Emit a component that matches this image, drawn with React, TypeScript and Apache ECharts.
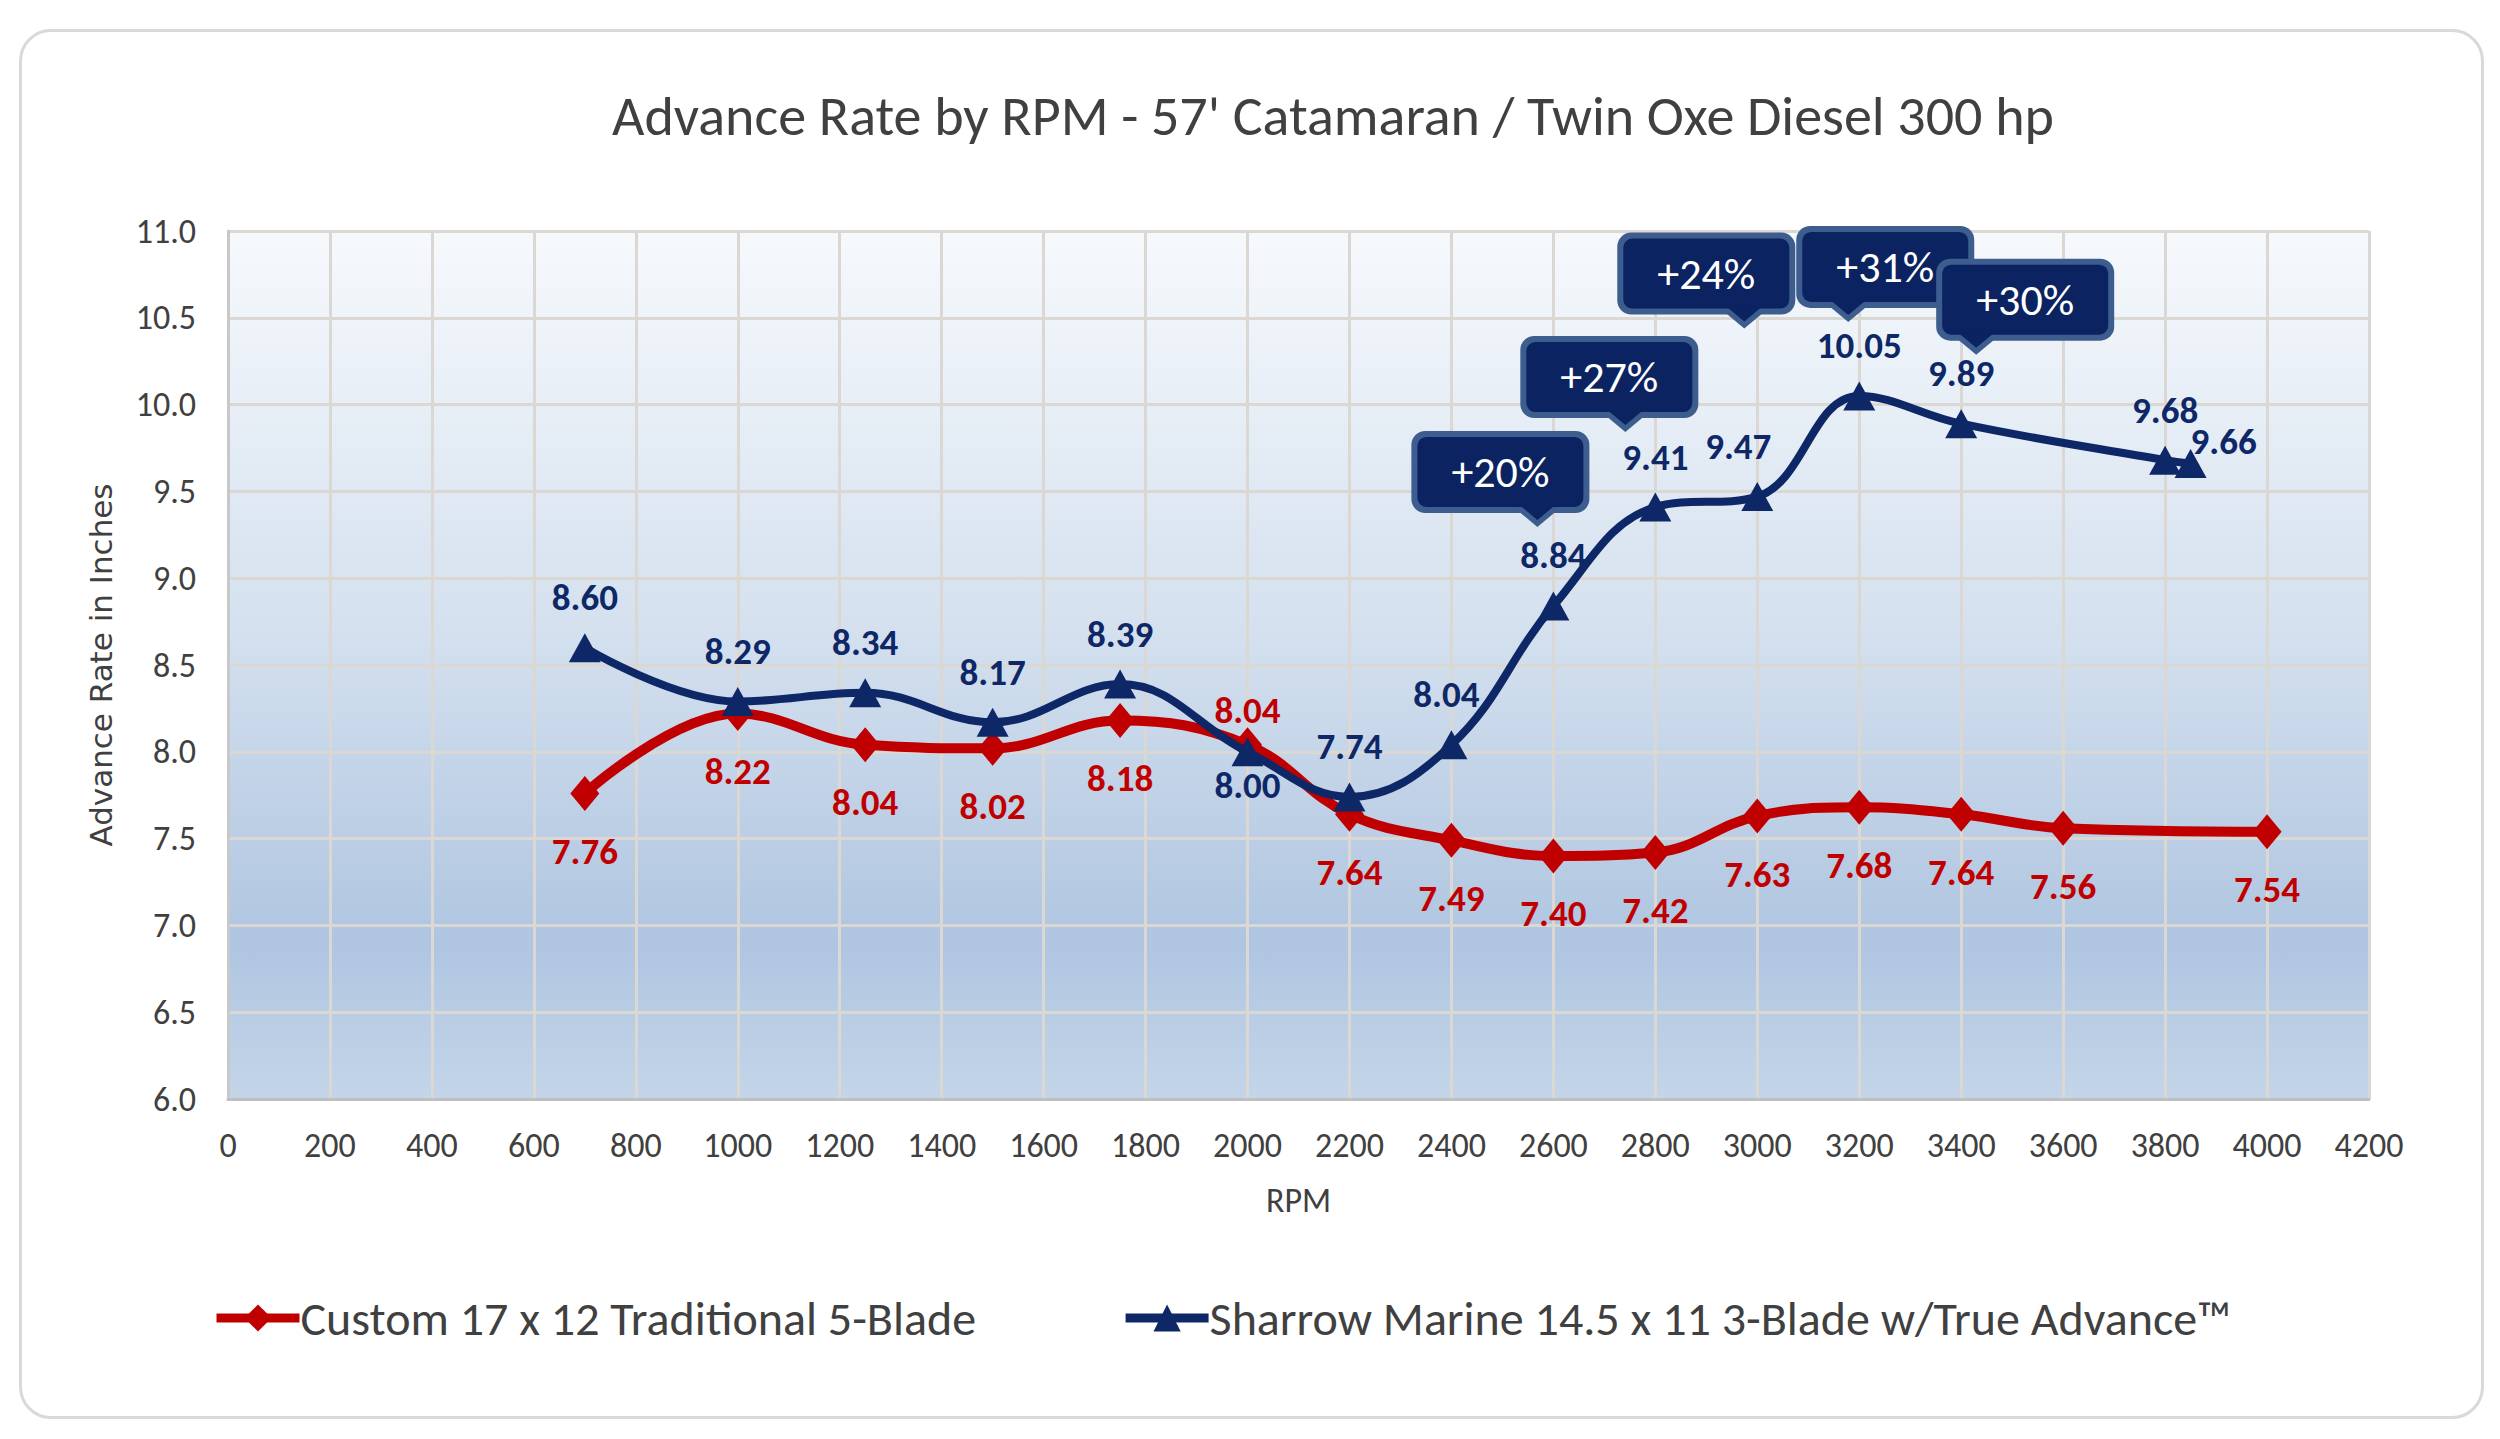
import React, { useEffect, useRef } from "react";
import * as echarts from "echarts";

const rpmCustom = [700, 1000, 1250, 1500, 1750, 2000, 2200, 2400, 2600, 2800, 3000, 3200, 3400, 3600, 4000];
const customValues = [7.76, 8.22, 8.04, 8.02, 8.18, 8.04, 7.64, 7.49, 7.4, 7.42, 7.63, 7.68, 7.64, 7.56, 7.54];
const rpmSharrow = [700, 1000, 1250, 1500, 1750, 2000, 2200, 2400, 2600, 2800, 3000, 3200, 3400, 3800, 3850];
const sharrowValues = [8.6, 8.29, 8.34, 8.17, 8.39, 8.0, 7.74, 8.04, 8.84, 9.41, 9.47, 10.05, 9.89, 9.68, 9.66];
const calloutRpm = [2600, 2800, 3000, 3200, 3400];
const calloutText = ["+20%", "+27%", "+24%", "+31%", "+30%"];

const seriesNames = ["Custom 17 x 12 Traditional 5-Blade", "Sharrow Marine 14.5 x 11 3-Blade w/True Advance™"];
const titleText = "Advance Rate by RPM - 57' Catamaran / Twin Oxe Diesel 300 hp";

// styling / placement (pixels)
const calloutPlacement = [
  { dx: -53, dy: -134, tip: 37 },
  { dx: -46, dy: -130, tip: 16 },
  { dx: -51, dy: -223, tip: 38 },
  { dx: 26, dy: -129, tip: -37 },
  { dx: 64, dy: -124, tip: -49 },
];

const FONT = "Carlito, 'Liberation Sans Narrow', Lato, sans-serif";
const RED = "#c00000";
const NAVY = "#0e2766";
const TEXT = "#404040";

export default function App() {
  const ref = useRef<HTMLDivElement>(null);

  useEffect(() => {
    document.body.style.margin = "0";
    if (!ref.current) return;
    const chart = echarts.init(ref.current, undefined, { renderer: "svg" });

    const redData = rpmCustom.map((x, i) => {
      const up = i === 5;
      return {
        value: [x, customValues[i]],
        label: { position: up ? "top" : "bottom", distance: up ? -2 : 22 },
      };
    });
    const blueData = rpmSharrow.map((x, i) => {
      let label: any = { position: "top", distance: 17 };
      if (i === 5) label = { position: "bottom", distance: 1 };
      if (i === 10) label = { position: "top", distance: 17, offset: [-19, 0] };
      if (i === 7) label = { position: "top", distance: 17, offset: [-5, 0] };
      if (i === 14) label = { position: "right", distance: 0, offset: [-16, -22] };
      return { value: [x, sharrowValues[i]], label };
    });
    const calloutData = calloutRpm.map((x) => [x, sharrowValues[rpmSharrow.indexOf(x)]]);

    chart.setOption({
      animation: false,
      backgroundColor: "transparent",
      textStyle: { fontFamily: FONT },
      title: {
        text: titleText,
        left: 1328,
        textAlign: "center",
        top: 83,
        textStyle: { fontFamily: FONT, fontSize: 56, fontWeight: "normal", color: TEXT },
      },
      legend: {
        data: seriesNames,
        left: 207,
        top: 1289,
        itemWidth: 83,
        itemHeight: 34,
        itemGap: 145,
        lineStyle: { width: 9 },
        textStyle: { fontFamily: FONT, fontSize: 48, color: TEXT, padding: [0, 0, 0, -4] },
      },
      grid: {
        left: 228,
        right: 131,
        top: 231,
        bottom: 340,
        show: true,
        borderWidth: 0,
        backgroundColor: new echarts.graphic.LinearGradient(0, 0, 0, 1, [
          { offset: 0, color: "#f6f9fc" },
          { offset: 0.45, color: "#d5e1ef" },
          { offset: 0.82, color: "#afc5e0" },
          { offset: 1, color: "#c4d5e9" },
        ]),
      },
      xAxis: {
        type: "value",
        min: 0,
        max: 4200,
        interval: 200,
        name: "RPM",
        nameLocation: "middle",
        nameGap: 84,
        nameTextStyle: { fontFamily: FONT, fontSize: 34, color: TEXT },
        axisLine: { show: true, lineStyle: { color: "#bfbfbf", width: 3 } },
        axisTick: { show: false },
        axisLabel: { fontFamily: FONT, fontSize: 34, color: TEXT, margin: 29, formatter: (v: number) => String(v) },
        splitLine: { show: true, lineStyle: { color: "#dbd8d4", width: 3 } },
      },
      yAxis: {
        type: "value",
        min: 6,
        max: 11,
        interval: 0.5,
        name: "Advance Rate in Inches",
        nameLocation: "middle",
        nameGap: 112,
        nameTextStyle: { fontFamily: "'DejaVu Sans', Verdana, sans-serif", fontSize: 31, color: TEXT },
        axisLine: { show: true, lineStyle: { color: "#c8c8c8", width: 3 } },
        axisTick: { show: false },
        axisLabel: {
          fontFamily: FONT,
          fontSize: 34,
          color: TEXT,
          margin: 32,
          formatter: (v: number) => v.toFixed(1),
        },
        splitLine: { show: true, lineStyle: { color: "#dbd8d4", width: 3 } },
      },
      series: [
        {
          name: seriesNames[0],
          type: "line",
          data: redData,
          smooth: 0.4,
          symbol: "diamond",
          symbolSize: [29, 35],
          z: 3,
          lineStyle: { color: RED, width: 10 },
          itemStyle: { color: RED },
          label: {
            show: true,
            color: RED,
            fontFamily: FONT,
            fontSize: 37,
            fontWeight: "bold",
            formatter: (p: any) => p.value[1].toFixed(2),
          },
        },
        {
          name: seriesNames[1],
          type: "line",
          data: blueData,
          smooth: 0.4,
          symbol: "triangle",
          symbolSize: [32, 29],
          z: 4,
          lineStyle: { color: NAVY, width: 8 },
          itemStyle: { color: NAVY },
          label: {
            show: true,
            color: NAVY,
            fontFamily: FONT,
            fontSize: 37,
            fontWeight: "bold",
            formatter: (p: any) => p.value[1].toFixed(2),
          },
        },
        {
          name: "callouts",
          type: "custom",
          data: calloutData,
          z: 10,
          clip: false,
          silent: true,
          encode: { x: 0, y: 1 },
          renderItem: (params: any, api: any) => {
            const i = params.dataIndex;
            const p = api.coord([api.value(0), api.value(1)]);
            const o = calloutPlacement[i];
            const w = 166;
            const h = 70;
            const b = 6;
            const cx = p[0] + o.dx;
            const cy = p[1] + o.dy;
            const x0 = cx - w / 2;
            const y0 = cy - h / 2;
            const tx = cx + o.tip;
            const border = "#3d5d8f";
            const fill = "#0b2360";
            return {
              type: "group",
              children: [
                {
                  type: "rect",
                  shape: { x: x0 - b, y: y0 - b, width: w + 2 * b, height: h + 2 * b, r: 14 },
                  style: { fill: border },
                },
                {
                  type: "polygon",
                  shape: { points: [[tx - 18 - b, y0 + h], [tx + 18 + b, y0 + h], [tx, y0 + h + 14 + b]] },
                  style: { fill: border },
                },
                {
                  type: "rect",
                  shape: { x: x0, y: y0, width: w, height: h, r: 9 },
                  style: { fill },
                },
                {
                  type: "polygon",
                  shape: { points: [[tx - 18, y0 + h - 2], [tx + 18, y0 + h - 2], [tx, y0 + h + 13]] },
                  style: { fill },
                },
                {
                  type: "text",
                  x: cx,
                  y: cy,
                  style: {
                    text: calloutText[i],
                    fill: "#ffffff",
                    fontFamily: FONT,
                    fontSize: 44,
                    align: "center",
                    verticalAlign: "middle",
                  },
                },
              ],
            };
          },
        },
      ],
    });

    return () => chart.dispose();
  }, []);

  return (
    <div style={{ position: "relative", width: 2500, height: 1439, background: "#ffffff" }}>
      <div
        style={{
          position: "absolute",
          left: 19,
          top: 29,
          width: 2465,
          height: 1390,
          border: "3px solid #d9d9d9",
          borderRadius: 32,
          boxSizing: "border-box",
          background: "#ffffff",
        }}
      />
      <div ref={ref} style={{ position: "absolute", left: 0, top: 0, width: 2500, height: 1439 }} />
    </div>
  );
}
